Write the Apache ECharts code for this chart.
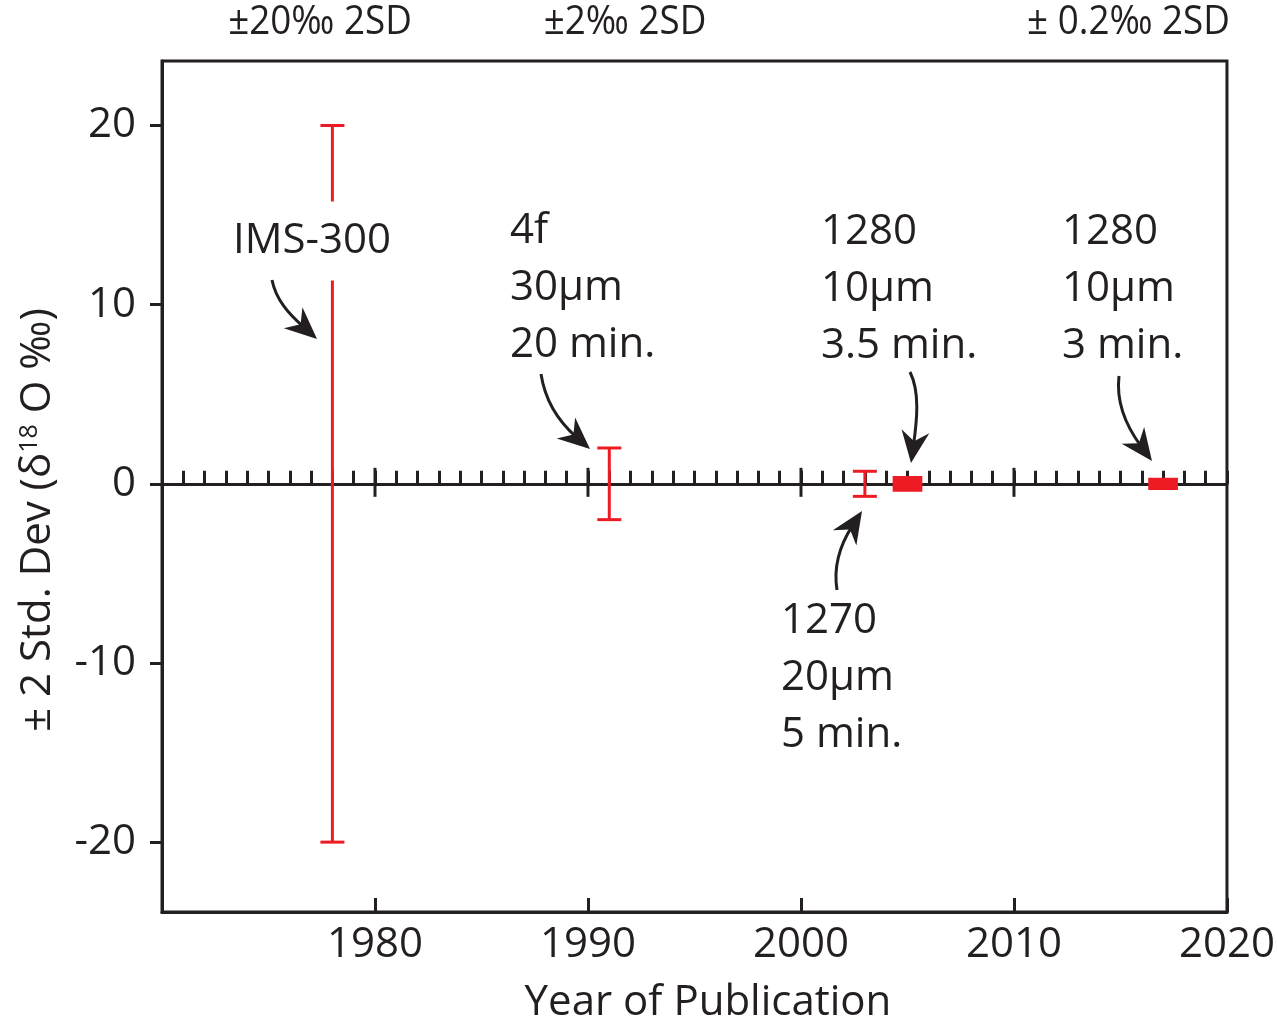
<!DOCTYPE html>
<html>
<head>
<meta charset="utf-8">
<script src="https://cdn.jsdelivr.net/npm/echarts@6/dist/echarts.min.js"></script>
<style>
  html, body { margin: 0; padding: 0; background: #fff; }
  #chart { width: 1278px; height: 1024px; }
</style>
</head>
<body>
<div id="chart"></div>
<script>
// Year of publication and the reported ±2SD precision (‰) for each instrument
const years = [1978, 1991, 2003, 2005, 2017];
const twoSD = [20, 2, 0.7, 0.3, 0.2];
const barKind = ['cap', 'cap', 'cap', 'block', 'block'];

// Axis ticks
const xTickLabels = [1980, 1990, 2000, 2010, 2020];
const yTickLabels = [-20, -10, 0, 10, 20];
const decades = [1980, 1990, 2000, 2010];

const INK = '#231f20';
const RED = '#ed1c24';
const FONT = '"Open Sans", "Noto Sans", sans-serif';
const FS = 42;

const chart = echarts.init(document.getElementById('chart'), null, { renderer: 'canvas' });

function errorBar(params, api) {
  const x = api.value(0), lo = api.value(1), hi = api.value(2), idx = api.value(3);
  if (barKind[idx] === 'block') {
    const a = api.coord([x - 0.58, hi]);
    const b = api.coord([x + 0.58, lo]);
    return {
      type: 'rect',
      shape: { x: a[0], y: a[1], width: b[0] - a[0], height: b[1] - a[1] },
      style: { fill: RED, stroke: RED, lineWidth: 5 }
    };
  }
  const top = api.coord([x, hi]);
  const bot = api.coord([x, lo]);
  const hw = 12;
  const st = { stroke: RED, lineWidth: 3 };
  return {
    type: 'group',
    children: [
      { type: 'line', shape: { x1: top[0], y1: top[1], x2: bot[0], y2: bot[1] }, style: st },
      { type: 'line', shape: { x1: top[0] - hw, y1: top[1], x2: top[0] + hw, y2: top[1] }, style: st },
      { type: 'line', shape: { x1: bot[0] - hw, y1: bot[1], x2: bot[0] + hw, y2: bot[1] }, style: st }
    ]
  };
}

function decadeTick(params, api) {
  const p = api.coord([api.value(0), 0]);
  return {
    type: 'line',
    shape: { x1: p[0], y1: p[1] - 16, x2: p[0], y2: p[1] + 13 },
    style: { stroke: INK, lineWidth: 3 }
  };
}

// curved annotation arrow with a filled stealth head
function arrow(p0, c1, c2, tip) {
  const dx = tip[0] - c2[0], dy = tip[1] - c2[1];
  const L = Math.hypot(dx, dy);
  const ux = dx / L, uy = dy / L;
  const px = -uy, py = ux;
  const len = 32, hw = 14, notch = 22;
  const nx = tip[0] - ux * notch, ny = tip[1] - uy * notch;
  const bx = tip[0] - ux * len, by = tip[1] - uy * len;
  return [
    {
      type: 'bezierCurve', z: 100,
      shape: { x1: p0[0], y1: p0[1], cpx1: c1[0], cpy1: c1[1], cpx2: c2[0], cpy2: c2[1], x2: nx + ux * 4, y2: ny + uy * 4 },
      style: { stroke: INK, lineWidth: 3, fill: null }
    },
    {
      type: 'polygon', z: 100,
      shape: { points: [tip, [bx + px * hw, by + py * hw], [nx, ny], [bx - px * hw, by - py * hw]] },
      style: { fill: INK }
    }
  ];
}

function label(text, x, y, opts, extra) {
  return Object.assign({
    type: 'text', z: 100, x: x, y: y,
    style: Object.assign({ text: text, font: FS + 'px ' + FONT, fill: INK, align: 'left', verticalAlign: 'top', lineHeight: 57 }, opts || {})
  }, extra || {});
}

const headFont = { font: '40px ' + FONT, verticalAlign: 'middle' };
const graphics = [
  // precision headings above the frame
  label('±20‰ 2SD', 320, 23, Object.assign({ align: 'center' }, headFont), { scaleX: 0.92 }),
  label('±2‰ 2SD', 625, 23, Object.assign({ align: 'center' }, headFont), { scaleX: 0.92 }),
  label('± 0.2‰ 2SD', 1230, 23, Object.assign({ align: 'right' }, headFont), { scaleX: 0.92 }),

  // instrument notes
  label('IMS-300', 312, 241, { align: 'center', verticalAlign: 'middle', backgroundColor: '#fff', padding: [11, 2] }),
  label('4f\n30µm\n20 min.', 510, 203),
  label('1280\n10µm\n3.5 min.', 821, 204),
  label('1280\n10µm\n3 min.', 1062, 204),
  label('1270\n20µm\n5 min.', 781, 593),

  // axis titles
  label('Year of Publication', 708, 1003, { align: 'center', verticalAlign: 'middle' }),
  {
    type: 'text', z: 100, x: 38, y: 520, rotation: Math.PI / 2,
    style: {
      text: '± 2 Std. Dev (δ{sup|18} O ‰)',
      font: FS + 'px ' + FONT, fill: INK, align: 'center', verticalAlign: 'middle',
      rich: { sup: { font: '25px ' + FONT, fill: INK, verticalAlign: 'top', padding: [0, 0, 14, 0] } }
    }
  }
].concat(
  arrow([272, 280], [276, 300], [289, 314], [317, 339]),
  arrow([541, 374], [545, 400], [558, 421], [590, 449]),
  arrow([837, 590], [833, 565], [840, 545], [862, 511]),
  arrow([910, 372], [920, 392], [917, 420], [911, 463]),
  arrow([1119, 376], [1116, 402], [1126, 426], [1152, 461])
);

const option = {
  animation: false,
  backgroundColor: '#fff',
  grid: {
    left: 162, right: 51, top: 61, bottom: 112,
    show: true, borderColor: INK, borderWidth: 3, backgroundColor: 'transparent'
  },
  xAxis: [
    {
      type: 'value', min: 1970, max: 2020, interval: 10, position: 'bottom',
      axisLine: { onZero: false, lineStyle: { color: INK, width: 3 } },
      axisTick: { inside: true, length: 14, lineStyle: { color: INK, width: 3 } },
      axisLabel: { customValues: xTickLabels, formatter: v => String(v), margin: 12, color: INK, fontFamily: FONT, fontSize: FS },
      splitLine: { show: false }
    },
    {
      // the zero baseline with a tick every year
      type: 'value', min: 1970, max: 2020, interval: 1, position: 'bottom',
      axisLine: { onZero: true, lineStyle: { color: INK, width: 3 } },
      axisTick: { inside: true, length: 13, lineStyle: { color: INK, width: 3 } },
      axisLabel: { show: false },
      splitLine: { show: false }
    }
  ],
  yAxis: {
    type: 'value', min: -23.9, max: 23.6,
    axisLine: { onZero: false, lineStyle: { color: INK, width: 3 } },
    axisTick: { customValues: yTickLabels, inside: false, length: 12, lineStyle: { color: INK, width: 3 } },
    axisLabel: { customValues: yTickLabels, margin: 26, color: INK, fontFamily: FONT, fontSize: FS },
    splitLine: { show: false }
  },
  series: [
    {
      type: 'custom', name: 'decades', xAxisIndex: 0, yAxisIndex: 0, z: 3,
      renderItem: decadeTick,
      data: decades.map(d => [d]),
      encode: { x: 0 },
      silent: true
    },
    {
      type: 'custom', name: '2SD', xAxisIndex: 0, yAxisIndex: 0, z: 4,
      renderItem: errorBar,
      data: years.map((y, i) => [y, -twoSD[i], twoSD[i], i]),
      encode: { x: 0, y: [1, 2] }
    }
  ],
  graphic: graphics
};

chart.setOption(option);
</script>
</body>
</html>
